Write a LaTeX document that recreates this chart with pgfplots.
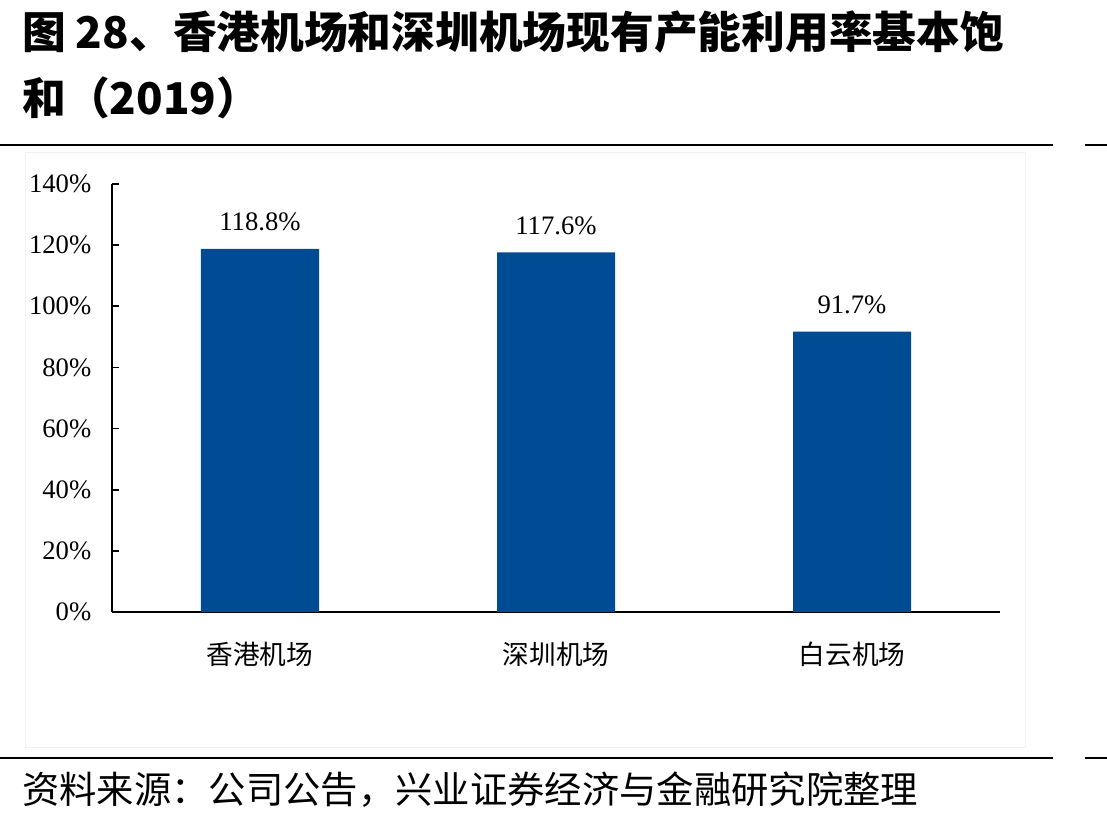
\documentclass[border=0pt]{standalone}
\usepackage{pgfplots}
\pgfplotsset{compat=1.18}
\usepackage{fontspec}
\setmainfont{Liberation Serif}
\newfontfamily\cjk{Noto Sans CJK SC}
\definecolor{barblue}{RGB}{0,76,148}
\begin{document}
\begin{tikzpicture}
\path[use as bounding box] (0,0) rectangle (830.25pt,616.5pt);
% title
\node[anchor=west,inner sep=0pt,font={\cjk\bfseries\fontsize{32.8}{40}\selectfont}] at (16.5pt,592.5pt) {图 28、香港机场和深圳机场现有产能利用率基本饱};
\node[anchor=west,inner sep=0pt,font={\cjk\bfseries\fontsize{32.8}{40}\selectfont}] at (16.5pt,543pt) {和（2019）};
% rules
\draw[line width=1.2pt] (0,507.75pt) -- (789.75pt,507.75pt);
\draw[line width=1.2pt] (813.75pt,507.75pt) -- (830.25pt,507.75pt);
\draw[line width=1.2pt] (0,48pt) -- (789.75pt,48pt);
\draw[line width=1.2pt] (813.75pt,48pt) -- (830.25pt,48pt);
\draw[black!5,line width=0.6pt] (18.75pt,56pt) rectangle (769pt,502pt);
% source
\node[anchor=west,inner sep=0pt,font={\cjk\fontsize{28}{32}\selectfont}] at (16.5pt,24pt) {资料来源：公司公告，兴业证券经济与金融研究院整理};
\begin{axis}[
  at={(84pt,157.5pt)}, anchor=south west,
  scale only axis, width=666pt, height=321pt,
  xmin=-0.5, xmax=2.5, ymin=0, ymax=140,
  axis lines=left, axis line style={-, line width=1.2pt},
  ytick={0,20,40,60,80,100,120,140},
  xtick=data, xticklabels={香港机场,深圳机场,白云机场},
  x tick style={draw=none},
  y tick style={line width=1.2pt, black},
  major tick length=5pt, tick align=inside,
  yticklabel={\pgfmathprintnumber{\tick}\%},
  /pgf/number format/assume math mode=true,
  yticklabel style={font=\fontsize{20}{24}\selectfont, xshift=-12pt},
  xticklabel style={font={\cjk\fontsize{20}{24}\selectfont}, yshift=-14pt},
  ybar, bar width=88.5pt,
  nodes near coords={\pgfmathprintnumber[fixed,precision=1,fixed zerofill]{\pgfplotspointmeta}\%},
  nodes near coords style={font=\fontsize{20}{24}\selectfont, yshift=10pt, /pgf/number format/assume math mode=true},
]
\addplot[fill=barblue, draw=none] coordinates {(0,118.8) (1,117.6) (2,91.7)};
\end{axis}
\end{tikzpicture}
\end{document}
